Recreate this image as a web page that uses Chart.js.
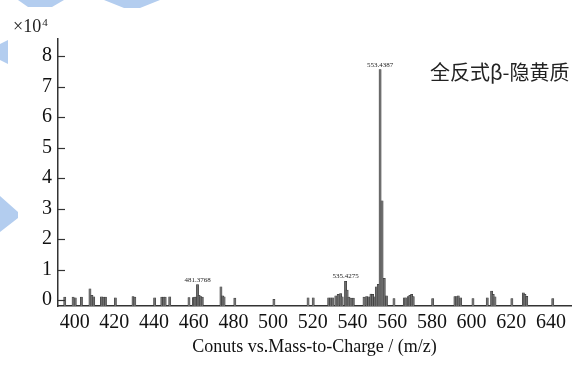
<!DOCTYPE html>
<html>
<head>
<meta charset="utf-8">
<script src="https://cdn.jsdelivr.net/npm/chart.js@4.4.1/dist/chart.umd.min.js"></script>
<style>
  html, body { margin: 0; padding: 0; background: #ffffff; }
  #wrap { width: 574px; height: 367px; position: relative; }
</style>
</head>
<body>
<div id="wrap"><canvas id="c" width="574" height="367"></canvas></div>
<script>
// ---- data (m/z positions as read against the axis; intensities in units of 10^4 counts) ----
const mz = [395.0, 399.2, 400.3, 403.4, 407.7, 408.7, 409.6, 413.5, 414.4, 415.5,
            420.5, 429.4, 430.3, 440.3, 443.9, 444.8, 445.6, 447.9, 457.6, 459.8,
            460.5, 461.2, 461.9, 462.7, 463.5, 464.3, 473.7, 474.5, 475.3, 480.7,
            500.4, 517.6, 520.2, 528.0, 529.1, 530.1, 531.6, 532.8, 534.0, 534.8,
            536.5, 537.3, 538.2, 539.2, 540.4, 545.8, 547.1, 548.2, 549.3, 550.1,
            551.2, 552.0, 553.0, 553.9, 554.9, 556.0, 557.1, 560.9, 566.1, 566.9,
            568.1, 568.9, 569.8, 570.6, 580.4, 591.6, 592.5, 593.3, 594.5, 600.7,
            607.9, 610.1, 610.9, 611.8, 620.3, 626.1, 626.9, 627.8, 640.9];
const counts = [0.10, 0.10, 0.08, 0.10, 0.37, 0.16, 0.11, 0.11, 0.10, 0.10,
                0.08, 0.12, 0.10, 0.08, 0.10, 0.10, 0.10, 0.11, 0.09, 0.09,
                0.10, 0.10, 0.51, 0.16, 0.12, 0.10, 0.44, 0.14, 0.11, 0.07,
                0.03, 0.08, 0.08, 0.08, 0.08, 0.08, 0.14, 0.19, 0.22, 0.11,
                0.62, 0.33, 0.10, 0.07, 0.07, 0.10, 0.12, 0.11, 0.20, 0.19,
                0.11, 0.44, 0.52, 7.56, 3.26, 0.72, 0.14, 0.05, 0.08, 0.08,
                0.12, 0.16, 0.19, 0.12, 0.05, 0.12, 0.12, 0.14, 0.08, 0.05,
                0.08, 0.30, 0.19, 0.11, 0.05, 0.24, 0.19, 0.13, 0.05];
const xTicks = [400, 420, 440, 460, 480, 500, 520, 540, 560, 580, 600, 620, 640];
const yTicks = [0, 1, 2, 3, 4, 5, 6, 7, 8];
const peakLabels = ['481.3768', '535.4275', '553.4387'];
const peakIndex = [22, 40, 53];
const compoundName = '全反式β-隐黄质';
const xTitle = 'Conuts vs.Mass-to-Charge / (m/z)';
const yExponentBase = '×10';
const yExponent = '4';

const X_MIN = 391.6, X_MAX = 650.1, Y_MIN = -0.19, Y_MAX = 8.56;
const SERIF = '"Liberation Serif", "Times New Roman", serif';

const decor = {
  id: 'decor',
  beforeDraw(chart) {
    const ctx = chart.ctx;
    ctx.save();
    ctx.fillStyle = '#ffffff';
    ctx.fillRect(0, 0, chart.width, chart.height);
    ctx.fillStyle = '#b3cdef';
    const polys = [
      [[18,0],[64,0],[52,7],[28,7]],
      [[104,0],[160,0],[140,8],[124,8]],
      [[0,44],[8,40],[8,64],[0,60]],
      [[0,196],[18,212],[18,218],[0,232]]
    ];
    polys.forEach(p => {
      ctx.beginPath();
      ctx.moveTo(p[0][0], p[0][1]);
      for (let i = 1; i < p.length; i++) ctx.lineTo(p[i][0], p[i][1]);
      ctx.closePath();
      ctx.fill();
    });
    ctx.restore();
  },
  afterDraw(chart) {
    const ctx = chart.ctx;
    const ys = chart.scales.y, xs = chart.scales.x;
    ctx.save();
    // inward y ticks
    ctx.strokeStyle = '#333';
    ctx.lineWidth = 1.2;
    yTicks.forEach(v => {
      const py = Math.round(ys.getPixelForValue(v)) + 0.5;
      ctx.beginPath();
      ctx.moveTo(xs.left, py);
      ctx.lineTo(xs.left + 7, py);
      ctx.stroke();
    });
    // peak annotations
    const meta = chart.getDatasetMeta(0);
    ctx.fillStyle = '#222';
    ctx.font = '7px ' + SERIF;
    ctx.textAlign = 'center';
    ctx.textBaseline = 'alphabetic';
    peakIndex.forEach((idx, k) => {
      const el = meta.data[idx];
      ctx.fillText(peakLabels[k], el.x, el.y - 3);
    });
    // exponent label
    ctx.textAlign = 'left';
    ctx.font = '18px ' + SERIF;
    ctx.fillText(yExponentBase, 13, 32);
    const w = ctx.measureText(yExponentBase).width;
    ctx.font = '11px ' + SERIF;
    ctx.fillText(yExponent, 13 + w + 1, 26);
    // compound name
    ctx.font = '20px "Noto Sans CJK SC", sans-serif';
    ctx.textBaseline = 'middle';
    ctx.fillText(compoundName, 430, 72);
    ctx.restore();
  }
};

new Chart(document.getElementById('c'), {
  type: 'bar',
  data: {
    datasets: [{
      data: mz.map((m, i) => ({ x: m, y: counts[i] })),
      backgroundColor: '#6f6f6f',
      borderColor: '#2a2a2a',
      borderWidth: 0.5,
      barThickness: 2.2,
      base: Y_MIN
    }]
  },
  options: {
    responsive: false,
    animation: false,
    devicePixelRatio: 1,
    layout: { padding: { top: 39, right: 3, left: 0, bottom: 0 } },
    plugins: { legend: { display: false }, tooltip: { enabled: false } },
    scales: {
      x: {
        type: 'linear',
        min: X_MIN, max: X_MAX,
        offset: false,
        afterBuildTicks: s => { s.ticks = xTicks.map(v => ({ value: v })); },
        afterFit: s => { s.height = 61; },
        grid: { display: false, drawTicks: false },
        border: { display: true, color: '#333', width: 1.5 },
        ticks: { color: '#111', padding: 5, maxRotation: 0, autoSkip: false,
                 font: { family: SERIF, size: 20 } },
        title: { display: true, text: xTitle, color: '#111',
                 font: { family: SERIF, size: 18 }, padding: { top: 0, bottom: 9 } }
      },
      y: {
        min: Y_MIN, max: Y_MAX,
        afterBuildTicks: s => { s.ticks = yTicks.map(v => ({ value: v })); },
        afterFit: s => { s.width = 58; },
        grid: { display: false, drawTicks: false },
        border: { display: true, color: '#333', width: 1.5 },
        ticks: { color: '#111', padding: 6, font: { family: SERIF, size: 20 } }
      }
    }
  },
  plugins: [decor]
});
</script>
</body>
</html>
